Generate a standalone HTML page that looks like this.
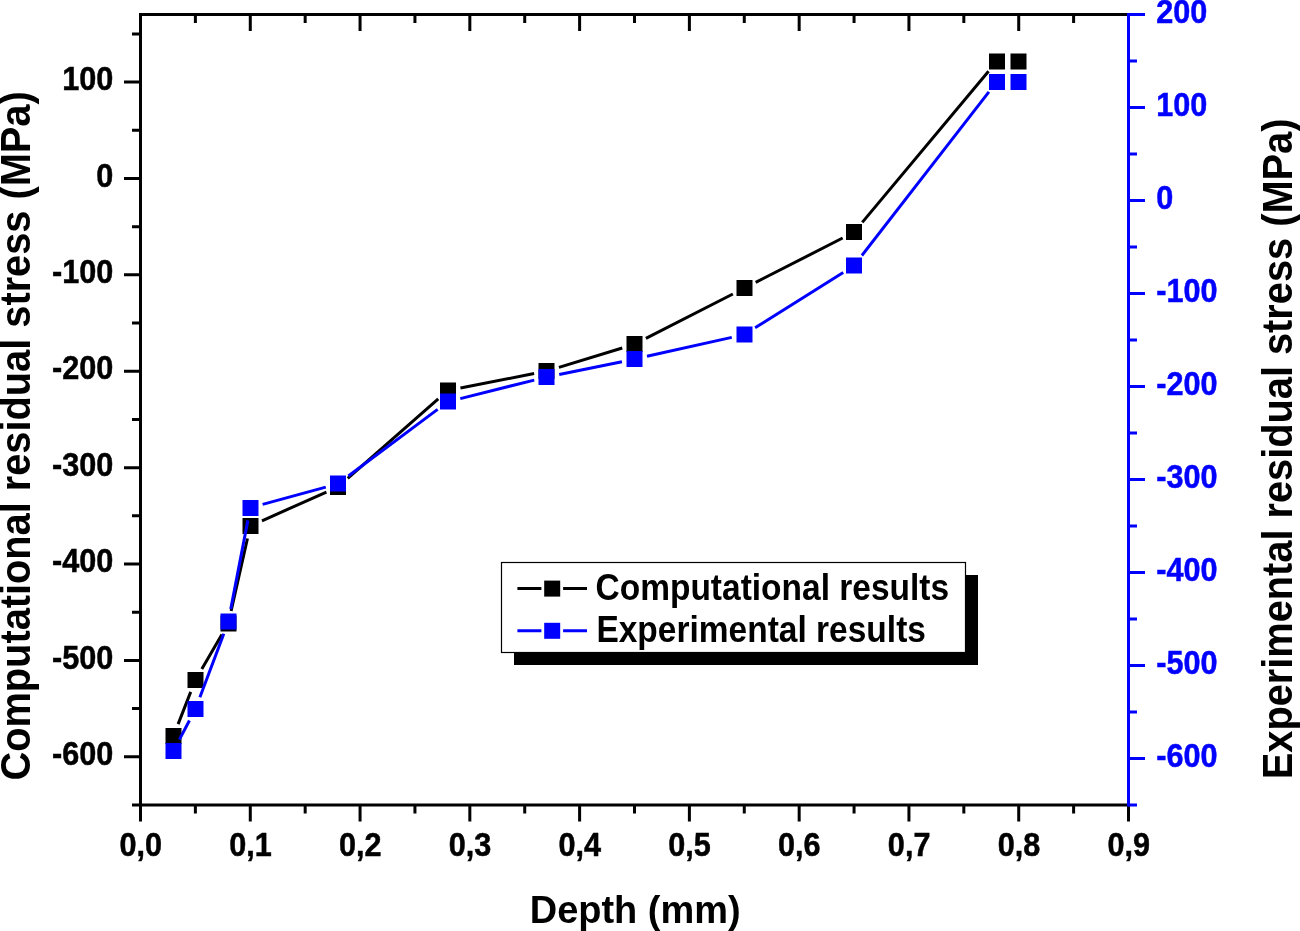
<!DOCTYPE html>
<html lang="en"><head><meta charset="utf-8"><title>Residual stress vs depth</title>
<style>html,body{margin:0;padding:0;background:#fff;overflow:hidden}svg{display:block;will-change:transform}</style>
</head><body>
<svg width="1300" height="931" viewBox="0 0 1300 931" font-family="'Liberation Sans', sans-serif" font-weight="bold">
<rect width="1300" height="931" fill="#fff"/>
<g id="series">
<path d="M178.11 724.08L190.72 691.92M201.83 668.94L221.88 634.56M231.13 611.01L247.47 538.49M261.97 520.78L326.41 492.02M347.72 478.36L438.26 398.94M460.44 388.03L534.12 373.57M558.92 367.35L622.26 347.95M645.90 338.38L732.88 294.02M755.68 282.38L842.65 238.02M862.27 222.38L988.56 71.32" stroke="#000" stroke-width="3" fill="none"/>
<rect x="165.5" y="728.0" width="16" height="16" fill="#000"/>
<rect x="187.5" y="672.0" width="16" height="16" fill="#000"/>
<rect x="220.5" y="615.5" width="16" height="16" fill="#000"/>
<rect x="242.5" y="518.0" width="16" height="16" fill="#000"/>
<rect x="330.0" y="479.0" width="16" height="16" fill="#000"/>
<rect x="440.0" y="382.5" width="16" height="16" fill="#000"/>
<rect x="538.5" y="363.0" width="16" height="16" fill="#000"/>
<rect x="626.5" y="336.0" width="16" height="16" fill="#000"/>
<rect x="736.5" y="280.0" width="16" height="16" fill="#000"/>
<rect x="846.0" y="224.0" width="16" height="16" fill="#000"/>
<rect x="989.0" y="53.5" width="16" height="16" fill="#000"/>
<rect x="1010.5" y="53.5" width="16" height="16" fill="#000"/>
<path d="M179.39 739.67L189.44 720.53M199.90 697.22L223.81 633.68M230.74 609.13L247.86 520.37M262.62 504.41L325.76 487.09M348.35 476.04L437.62 409.36M460.30 398.60L534.26 380.10M559.22 374.44L621.96 361.66M646.99 356.31L731.79 337.39M755.11 327.79L843.22 272.41M861.91 255.49L988.92 91.91" stroke="#0000ff" stroke-width="3" fill="none"/>
<rect x="165.5" y="743.0" width="16" height="16" fill="#0000ff"/>
<rect x="187.5" y="701.0" width="16" height="16" fill="#0000ff"/>
<rect x="220.5" y="613.5" width="16" height="16" fill="#0000ff"/>
<rect x="242.5" y="500.0" width="16" height="16" fill="#0000ff"/>
<rect x="330.0" y="475.5" width="16" height="16" fill="#0000ff"/>
<rect x="440.0" y="393.5" width="16" height="16" fill="#0000ff"/>
<rect x="538.5" y="369.0" width="16" height="16" fill="#0000ff"/>
<rect x="626.5" y="351.0" width="16" height="16" fill="#0000ff"/>
<rect x="736.5" y="326.5" width="16" height="16" fill="#0000ff"/>
<rect x="846.0" y="257.5" width="16" height="16" fill="#0000ff"/>
<rect x="989.0" y="74.0" width="16" height="16" fill="#0000ff"/>
<rect x="1010.5" y="74.0" width="16" height="16" fill="#0000ff"/>
</g>
<g id="axes" stroke-width="3" fill="none" stroke="#000">
<path d="M139.0 14.5H1127.0"/>
<path d="M132.0 805.0H1130.0"/>
<path d="M140.5 13.0V821.5"/>
<path d="M195.39 805.0v8.5M195.39 14.5v8.5M250.28 805.0v16.5M250.28 14.5v16.5M305.17 805.0v8.5M305.17 14.5v8.5M360.06 805.0v16.5M360.06 14.5v16.5M414.94 805.0v8.5M414.94 14.5v8.5M469.83 805.0v16.5M469.83 14.5v16.5M524.72 805.0v8.5M524.72 14.5v8.5M579.61 805.0v16.5M579.61 14.5v16.5M634.50 805.0v8.5M634.50 14.5v8.5M689.39 805.0v16.5M689.39 14.5v16.5M744.28 805.0v8.5M744.28 14.5v8.5M799.17 805.0v16.5M799.17 14.5v16.5M854.06 805.0v8.5M854.06 14.5v8.5M908.94 805.0v16.5M908.94 14.5v16.5M963.83 805.0v8.5M963.83 14.5v8.5M1018.72 805.0v16.5M1018.72 14.5v16.5M1073.61 805.0v8.5M1073.61 14.5v8.5M1128.50 805.0v16.5"/>
<path d="M140.5 33.91h-8.5M140.5 82.10h-16.5M140.5 130.29h-8.5M140.5 178.49h-16.5M140.5 226.68h-8.5M140.5 274.87h-16.5M140.5 323.06h-8.5M140.5 371.26h-16.5M140.5 419.45h-8.5M140.5 467.64h-16.5M140.5 515.84h-8.5M140.5 564.03h-16.5M140.5 612.22h-8.5M140.5 660.41h-16.5M140.5 708.61h-8.5M140.5 756.80h-16.5"/>
</g>
<g id="raxis" stroke-width="3" fill="none" stroke="#0000ff">
<path d="M1128.5 13.0V806.5"/>
<path d="M1128.5 14.50h16.5M1128.5 61.00h8.5M1128.5 107.50h16.5M1128.5 154.00h8.5M1128.5 200.50h16.5M1128.5 247.00h8.5M1128.5 293.50h16.5M1128.5 340.00h8.5M1128.5 386.50h16.5M1128.5 433.00h8.5M1128.5 479.50h16.5M1128.5 526.00h8.5M1128.5 572.50h16.5M1128.5 619.00h8.5M1128.5 665.50h16.5M1128.5 712.00h8.5M1128.5 758.50h16.5M1128.5 805.00h8.5"/>
</g>
<g id="lticks" font-size="33.2" text-anchor="end" fill="#000" stroke="#000" stroke-width="0.5">
<text transform="translate(113.2 90.30) scale(0.922 1)">100</text>
<text transform="translate(113.2 186.69) scale(0.922 1)">0</text>
<text transform="translate(113.2 283.07) scale(0.922 1)">-100</text>
<text transform="translate(113.2 379.46) scale(0.922 1)">-200</text>
<text transform="translate(113.2 475.84) scale(0.922 1)">-300</text>
<text transform="translate(113.2 572.23) scale(0.922 1)">-400</text>
<text transform="translate(113.2 668.61) scale(0.922 1)">-500</text>
<text transform="translate(113.2 765.00) scale(0.922 1)">-600</text>
</g>
<g id="rticks" font-size="33.2" text-anchor="start" fill="#0000ff" stroke="#0000ff" stroke-width="0.5">
<text transform="translate(1156.2 22.60) scale(0.922 1)">200</text>
<text transform="translate(1156.2 115.60) scale(0.922 1)">100</text>
<text transform="translate(1156.2 208.60) scale(0.922 1)">0</text>
<text transform="translate(1156.2 301.60) scale(0.922 1)">-100</text>
<text transform="translate(1156.2 394.60) scale(0.922 1)">-200</text>
<text transform="translate(1156.2 487.60) scale(0.922 1)">-300</text>
<text transform="translate(1156.2 580.60) scale(0.922 1)">-400</text>
<text transform="translate(1156.2 673.60) scale(0.922 1)">-500</text>
<text transform="translate(1156.2 766.60) scale(0.922 1)">-600</text>
</g>
<g id="xticks" font-size="33.2" text-anchor="middle" fill="#000" stroke="#000" stroke-width="0.5">
<text transform="translate(140.70 856) scale(0.922 1)">0,0</text>
<text transform="translate(250.48 856) scale(0.922 1)">0,1</text>
<text transform="translate(360.26 856) scale(0.922 1)">0,2</text>
<text transform="translate(470.03 856) scale(0.922 1)">0,3</text>
<text transform="translate(579.81 856) scale(0.922 1)">0,4</text>
<text transform="translate(689.59 856) scale(0.922 1)">0,5</text>
<text transform="translate(799.37 856) scale(0.922 1)">0,6</text>
<text transform="translate(909.14 856) scale(0.922 1)">0,7</text>
<text transform="translate(1018.92 856) scale(0.922 1)">0,8</text>
<text transform="translate(1128.70 856) scale(0.922 1)">0,9</text>
</g>
<text id="xtitle" transform="translate(635.2 923) scale(0.9645 1)" font-size="39.4" text-anchor="middle">Depth (mm)</text>
<text id="ltitle" transform="translate(29.6 780.5) rotate(-90) scale(0.9377 1)" font-size="42.4">Computational residual stress (MPa)</text>
<text id="rtitle" transform="translate(1291.9 779.2) rotate(-90) scale(0.9377 1)" font-size="42.4">Experimental residual stress (MPa)</text>
<g id="legend">
<rect x="514" y="575" width="464" height="90" fill="#000"/>
<rect x="501.5" y="562.5" width="464" height="90" fill="#fff" stroke="#000" stroke-width="1.2"/>
<path d="M517.4 588.6H541.4M563.1 588.6H587" stroke="#000" stroke-width="3"/>
<rect x="544.2" y="580.6" width="16" height="16" fill="#000"/>
<text transform="translate(595.5 599.5) scale(0.923 1)" font-size="36.3">Computational results</text>
<path d="M517.4 630.8H541.4M563.1 630.8H587" stroke="#0000ff" stroke-width="3"/>
<rect x="544.2" y="622.8" width="16" height="16" fill="#0000ff"/>
<text transform="translate(596.4 641.7) scale(0.923 1)" font-size="36.3">Experimental results</text>
</g>
</svg>
</body></html>
